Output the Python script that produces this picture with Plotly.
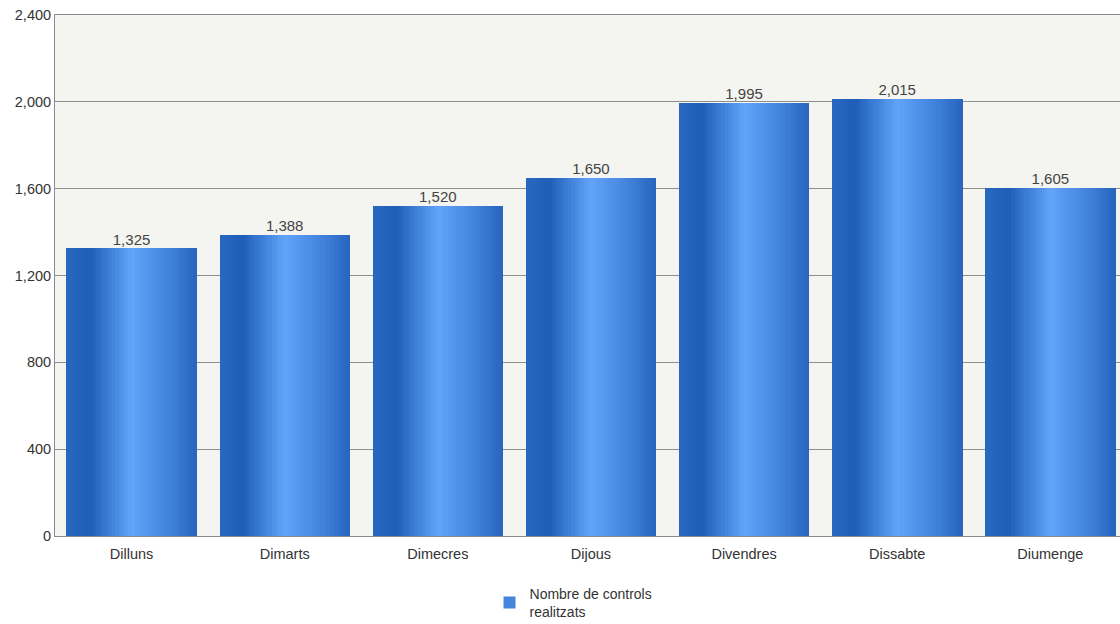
import plotly.graph_objects as go

days = ["Dilluns", "Dimarts", "Dimecres", "Dijous", "Divendres", "Dissabte", "Diumenge"]
controls = [1325, 1388, 1520, 1650, 1995, 2015, 1605]
series_name = "Nombre de controls<br>realitzats"
y_ticks = [0, 400, 800, 1200, 1600, 2000, 2400]

# gradient stops across bar width (style only)
stops = [(0.0, (41, 104, 193)), (0.18, (30, 94, 183)), (0.5, (98, 164, 250)),
         (0.78, (66, 132, 220)), (1.0, (38, 100, 190))]

def grad(t):
    for (a, ca), (b, cb) in zip(stops[:-1], stops[1:]):
        if a <= t <= b:
            f = (t - a) / (b - a)
            c = [round(ca[i] + (cb[i] - ca[i]) * f) for i in range(3)]
            return "rgb(%d,%d,%d)" % tuple(c)
    return "rgb(%d,%d,%d)" % stops[-1][1]

bar_w = 0.85
n_strips = 40
sw = bar_w / n_strips
legend_strip = 14

fig = go.Figure()
for i in range(n_strips):
    t = (i + 0.5) / n_strips
    fig.add_trace(go.Bar(
        x=days, y=controls, width=sw * 1.08, offset=-bar_w / 2 + i * sw,
        marker=dict(color=grad(t), line=dict(width=0)),
        showlegend=(i == legend_strip), name=series_name,
        hoverinfo="skip",
    ))

fig.add_trace(go.Scatter(
    x=days, y=controls, mode="text", text=[f"{v:,}" for v in controls],
    textposition="top center", textfont=dict(size=15, color="#444444"),
    showlegend=False, hoverinfo="skip", cliponaxis=False,
))

fig.update_layout(
    width=1120, height=624,
    margin=dict(l=55, r=0, t=15, b=88),
    paper_bgcolor="white", plot_bgcolor="#f4f4f0",
    barmode="overlay", bargap=0,
    font=dict(family="Arial, Liberation Sans, sans-serif", size=14, color="#333333"),
    showlegend=True,
    legend=dict(orientation="v", x=0.408, xanchor="left",
                yref="container", y=0.074, yanchor="top",
                font=dict(size=14, color="#333333"), bgcolor="rgba(0,0,0,0)",
                itemwidth=30),
    xaxis=dict(range=[-0.5, 6.455], showgrid=False, showline=True, linecolor="#8a8a8a",
               linewidth=1, mirror=True, ticks="", automargin=False, ticklabelstandoff=5,
               tickfont=dict(size=14.5, color="#333333")),
    yaxis=dict(range=[0, 2400], tickvals=y_ticks, ticktext=[f"{v:,}" for v in y_ticks],
               showgrid=True, gridcolor="rgba(60,60,60,0.55)", gridwidth=1,
               showline=True, linecolor="#8a8a8a", linewidth=1, zeroline=False,
               layer="above traces", ticks="", automargin=False,
               tickfont=dict(size=14.5, color="#333333")),
)

fig.write_html("out.html", config={"displayModeBar": False},
               post_script="document.body.style.margin='0';document.body.style.overflow='hidden';")
